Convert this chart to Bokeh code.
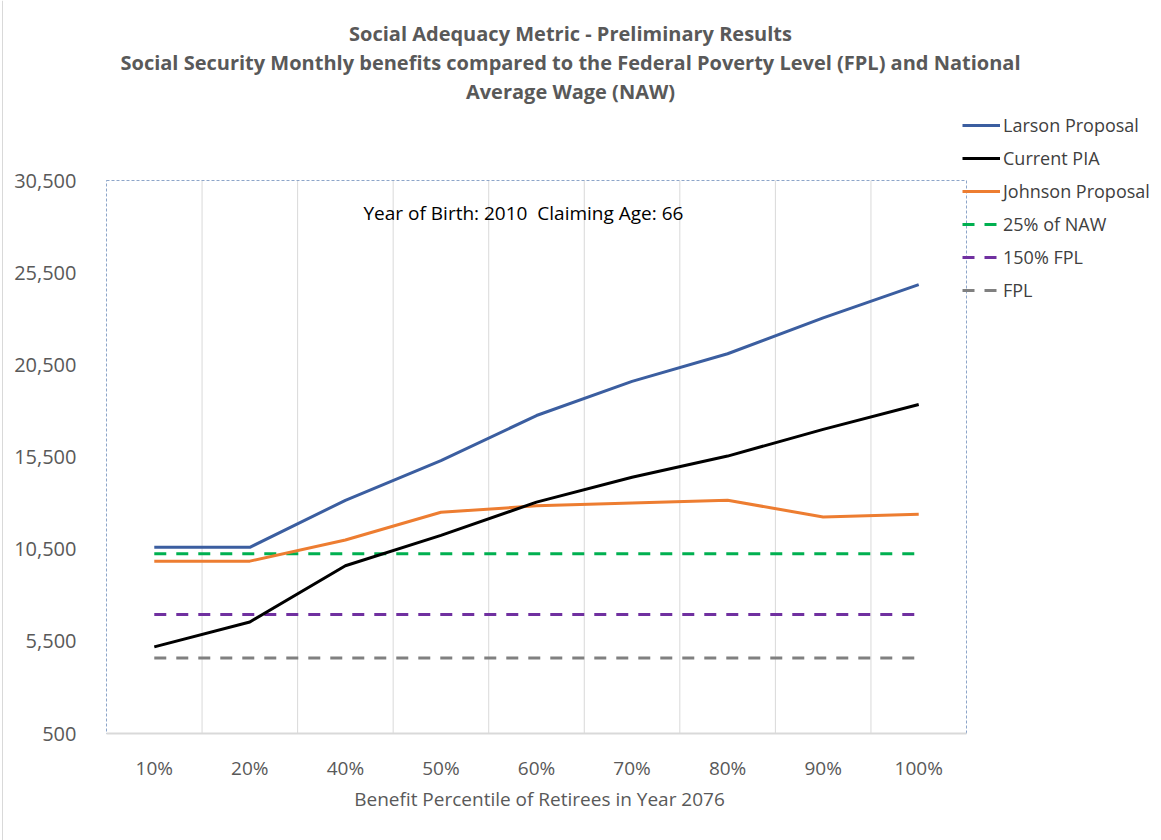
from bokeh.plotting import figure
from bokeh.models import (Range1d, FixedTicker, NumeralTickFormatter, BoxAnnotation,
                          Label, Legend, LegendItem, ColumnDataSource, Span)
from bokeh.embed import file_html
from bokeh.resources import INLINE

categories = ["10%", "20%", "40%", "50%", "60%", "70%", "80%", "90%", "100%"]
larson = [10600, 10600, 13150, 15300, 17750, 19600, 21100, 23050, 24850]
current_pia = [5200, 6550, 9600, 11250, 13050, 14400, 15550, 17000, 18350]
johnson = [9850, 9850, 11000, 12500, 12850, 13000, 13150, 12250, 12400]
naw25 = [10250] * 9
fpl150 = [6950] * 9
fpl = [4600] * 9
y_ticks = [500, 5500, 10500, 15500, 20500, 25500, 30500]

title_lines = ["Social Adequacy Metric - Preliminary Results",
               "Social Security Monthly benefits compared to the Federal Poverty Level (FPL) and National",
               "Average Wage (NAW)"]
note = "Year of Birth: 2010\u00a0 Claiming Age: 66"
x_label = "Benefit Percentile of Retirees in Year 2076"

FONT = "Open Sans"
GRAY = "#595959"

# layout (pixels): the frame covers the whole canvas, plot area sits inside it
W, H = 1161, 840
AREA_L, AREA_R, AREA_T, AREA_B = 106, 966, 180, 733

n = len(categories)
xs = [i + 0.5 for i in range(n)]
y_min, y_max = y_ticks[0], y_ticks[-1]
ux = n / (AREA_R - AREA_L)                 # data units per pixel (x)
uy = (y_max - y_min) / (AREA_B - AREA_T)   # data units per pixel (y)
x_range = Range1d(-AREA_L * ux, n + (W - AREA_R) * ux)
y_range = Range1d(y_min - (H - AREA_B) * uy, y_max + AREA_T * uy)

p = figure(width=W, height=H, x_range=x_range, y_range=y_range,
           output_backend="svg", toolbar_location=None, title=None,
           min_border=0)
p.background_fill_color = "white"
p.border_fill_color = "white"
p.outline_line_color = None
p.xgrid.visible = False
p.ygrid.visible = False

# faint chart-area edge at the left
p.add_layout(Span(location=2, location_units="screen", dimension="height",
                  line_color="#d9d9d9", line_width=1))
# plot-area border (dotted) and vertical separators between categories
p.add_layout(BoxAnnotation(left=0, right=n, bottom=y_min, top=y_max, fill_alpha=0,
                           line_color="#8da5c9", line_alpha=1, line_dash="3 2",
                           line_width=1, level="underlay"))
p.segment(x0=list(range(1, n)), x1=list(range(1, n)), y0=y_min, y1=y_max,
          line_color="#d9d9d9", line_width=1, level="underlay")

p.yaxis.fixed_location = 0
p.yaxis.ticker = FixedTicker(ticks=y_ticks)
p.yaxis.bounds = (y_min, y_max)
p.yaxis.formatter = NumeralTickFormatter(format="0,0")
p.yaxis.axis_line_color = None
p.yaxis.major_tick_line_color = None
p.yaxis.minor_tick_line_color = None
p.yaxis.major_label_text_font = FONT
p.yaxis.major_label_text_font_size = "20px"
p.yaxis.major_label_text_color = GRAY
p.yaxis.major_label_standoff = 24

p.xaxis.fixed_location = y_min
p.xaxis.ticker = FixedTicker(ticks=xs)
p.xaxis.major_label_overrides = {x: c for x, c in zip(xs, categories)}
p.xaxis.bounds = (0, n)
p.xaxis.axis_line_color = "#d9d9d9"
p.xaxis.axis_line_width = 2
p.xaxis.major_tick_line_color = None
p.xaxis.minor_tick_line_color = None
p.xaxis.major_label_text_font = FONT
p.xaxis.major_label_text_font_size = "19px"
p.xaxis.major_label_text_color = GRAY
p.xaxis.major_label_standoff = 15

src = ColumnDataSource(dict(x=xs, larson=larson, pia=current_pia, johnson=johnson,
                            naw=naw25, fpl150=fpl150, fpl=fpl))
dash = "12 10"
r_fpl = p.line("x", "fpl", source=src, line_color="#808080", line_width=3, line_dash=dash)
r_150 = p.line("x", "fpl150", source=src, line_color="#7030a0", line_width=3, line_dash=dash)
r_naw = p.line("x", "naw", source=src, line_color="#00b050", line_width=3, line_dash=dash)
r_joh = p.line("x", "johnson", source=src, line_color="#ed7d31", line_width=3)
r_pia = p.line("x", "pia", source=src, line_color="#000000", line_width=3)
r_lar = p.line("x", "larson", source=src, line_color="#3b5ea0", line_width=3)

legend = Legend(items=[
    LegendItem(label="Larson Proposal", renderers=[r_lar]),
    LegendItem(label="Current PIA", renderers=[r_pia]),
    LegendItem(label="Johnson Proposal", renderers=[r_joh]),
    LegendItem(label="25% of NAW", renderers=[r_naw]),
    LegendItem(label="150% FPL", renderers=[r_150]),
    LegendItem(label="FPL", renderers=[r_fpl]),
], location=(962, H - 302))
legend.border_line_color = None
legend.background_fill_alpha = 0
legend.padding = 0
legend.margin = 0
legend.spacing = 9
legend.glyph_width = 38
legend.glyph_height = 24
legend.label_height = 24
legend.label_standoff = 3
legend.label_text_font = FONT
legend.label_text_font_size = "18px"
legend.label_text_color = "#404040"
p.add_layout(legend)

for k, t in enumerate(title_lines):
    p.add_layout(Label(x=570, y=H - (33 + 29 * k), x_units="screen", y_units="screen",
                       text=t, text_font=FONT, text_font_style="bold", text_font_size="20px",
                       text_color=GRAY, text_align="center", text_baseline="middle"))

p.add_layout(Label(x=363, y=H - 212, x_units="screen", y_units="screen",
                   text=note, text_font=FONT, text_font_size="19px", text_color="#000000",
                   text_align="left", text_baseline="middle"))

p.add_layout(Label(x=(AREA_L + AREA_R) / 2 + 3, y=H - 798, x_units="screen", y_units="screen",
                   text=x_label, text_font=FONT, text_font_size="19px", text_color=GRAY,
                   text_align="center", text_baseline="middle"))

open("out.html", "w").write(file_html(p, INLINE))
